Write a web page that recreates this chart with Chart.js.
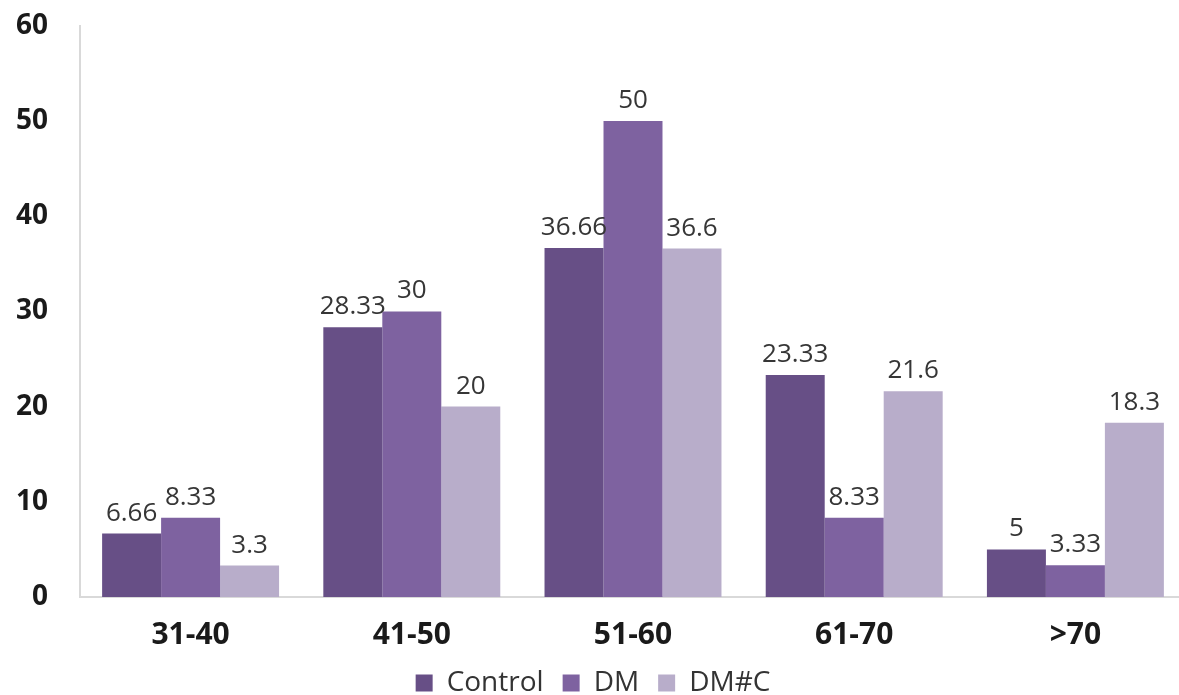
<!DOCTYPE html>
<html>
<head>
<meta charset="utf-8">
<script src="https://cdn.jsdelivr.net/npm/chart.js@4"></script>
<style>
  html, body { margin: 0; padding: 0; background: #fff; overflow: hidden; }
  /* canvas a bit larger than the page: the original plot runs to the edges */
  #wrap { position: relative; width: 1186px; height: 710px; margin-top: -15px; }
</style>
</head>
<body>
<div id="wrap"><canvas id="chart"></canvas></div>
<script>
const categories = ['31-40', '41-50', '51-60', '61-70', '>70'];
const seriesNames = ['Control', 'DM', 'DM#C'];
const controlValues = [6.66, 28.33, 36.66, 23.33, 5];
const dmValues = [8.33, 30, 50, 8.33, 3.33];
const dmcValues = [3.3, 20, 36.6, 21.6, 18.3];
const yTicks = [0, 10, 20, 30, 40, 50, 60];

const colors = ['#674F86', '#7E62A0', '#B8ADCA'];
const FONT = '"Open Sans", "DejaVu Sans", sans-serif';

// draws the value above each bar
const barLabels = {
  id: 'barLabels',
  afterDatasetsDraw(chart) {
    const ctx = chart.ctx;
    ctx.save();
    ctx.font = '26px ' + FONT;
    ctx.fillStyle = '#363636';
    ctx.textAlign = 'center';
    ctx.textBaseline = 'alphabetic';
    chart.data.datasets.forEach((ds, i) => {
      const meta = chart.getDatasetMeta(i);
      meta.data.forEach((bar, j) => {
        ctx.fillText(String(ds.data[j]), bar.x, bar.y - 13);
      });
    });
    ctx.restore();
  }
};

new Chart(document.getElementById('chart'), {
  type: 'bar',
  data: {
    labels: categories,
    datasets: [
      { label: seriesNames[0], data: controlValues, backgroundColor: colors[0] },
      { label: seriesNames[1], data: dmValues, backgroundColor: colors[1] },
      { label: seriesNames[2], data: dmcValues, backgroundColor: colors[2] },
    ],
  },
  options: {
    responsive: true,
    maintainAspectRatio: false,
    animation: false,
    layout: { padding: { top: 0, left: 0, right: 0, bottom: -12 } },
    datasets: {
      bar: { barPercentage: 1, categoryPercentage: 0.8 },
    },
    scales: {
      x: {
        afterFit: (scale) => { scale.height = 53; },
        grid: { display: false },
        border: { display: true, color: '#d9d9d9', width: 2 },
        ticks: {
          padding: 12,
          color: '#1a1a1a',
          font: { family: FONT, size: 30, weight: 'bold' },
        },
      },
      y: {
        min: 0,
        max: 60,
        afterBuildTicks: (scale) => { scale.ticks = yTicks.map(v => ({ value: v })); },
        afterFit: (scale) => { scale.width = 80; },
        grid: { display: false },
        border: { display: true, color: '#d9d9d9', width: 2 },
        ticks: {
          padding: 24,
          color: '#1a1a1a',
          font: { family: FONT, size: 28, weight: 'bold' },
        },
      },
    },
    plugins: {
      legend: {
        position: 'bottom',
        labels: {
          boxWidth: 17,
          boxHeight: 17,
          padding: 19,
          color: '#333',
          font: { family: FONT, size: 28 },
        },
      },
      tooltip: { enabled: false },
    },
  },
  plugins: [barLabels],
});
</script>
</body>
</html>
